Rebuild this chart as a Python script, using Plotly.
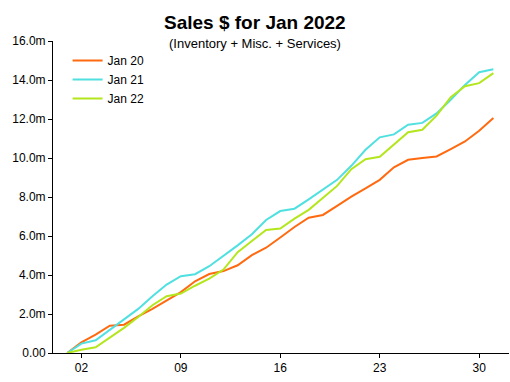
import plotly.graph_objects as go

days = list(range(1, 32))
jan20 = [0, 0.55, 0.94, 1.40, 1.45, 1.88, 2.26, 2.69, 3.12, 3.68, 4.05, 4.20, 4.50, 5.02, 5.40,
         5.92, 6.46, 6.94, 7.08, 7.54, 8.02, 8.44, 8.88, 9.52, 9.91, 10.00, 10.08, 10.46, 10.85, 11.40, 12.05]
jan21 = [0, 0.48, 0.65, 1.20, 1.71, 2.26, 2.91, 3.51, 3.94, 4.04, 4.45, 4.97, 5.52, 6.09, 6.82,
         7.28, 7.40, 7.88, 8.40, 8.88, 9.60, 10.42, 11.06, 11.21, 11.71, 11.80, 12.29, 12.99, 13.75, 14.40, 14.55]
jan22 = [0, 0.17, 0.29, 0.77, 1.29, 1.85, 2.45, 2.91, 3.05, 3.45, 3.81, 4.28, 5.17, 5.74, 6.31,
         6.38, 6.89, 7.34, 7.97, 8.57, 9.43, 9.94, 10.06, 10.68, 11.32, 11.45, 12.17, 13.12, 13.68, 13.84, 14.35]

x_tickvals = [2, 9, 16, 23, 30]
x_ticktext = ["02", "09", "16", "23", "30"]
y_tickvals = [0, 2, 4, 6, 8, 10, 12, 14, 16]
y_ticktext = ["0.00", "2.0m", "4.0m", "6.0m", "8.0m", "10.0m", "12.0m", "14.0m", "16.0m"]

series = [("Jan 20", jan20, "#FF6A10"), ("Jan 21", jan21, "#50E0E0"), ("Jan 22", jan22, "#B4E61E")]

fig = go.Figure()
for name, vals, color in series:
    fig.add_trace(go.Scatter(x=days, y=vals, name=name, mode="lines",
                             line=dict(color=color, width=2)))

font = "Liberation Sans, Arial, sans-serif"
fig.update_layout(
    width=510, height=382,
    margin=dict(l=53, r=1, t=41, b=29, autoexpand=False),
    paper_bgcolor="white", plot_bgcolor="white",
    font=dict(family=font, size=12, color="black"),
    showlegend=True,
    legend=dict(x=0.032, y=0.984, xanchor="left", yanchor="top", bgcolor="rgba(0,0,0,0)",
                font=dict(size=12), tracegroupgap=0, itemwidth=30),
    xaxis=dict(range=[0, 32.1], tickvals=x_tickvals, ticktext=x_ticktext, showgrid=False,
               zeroline=False, showline=True, linecolor="black", linewidth=1, automargin=False,
               ticks="outside", ticklen=4, tickcolor="black", fixedrange=True),
    yaxis=dict(range=[0, 16], tickvals=y_tickvals, ticktext=y_ticktext, showgrid=False,
               zeroline=False, showline=True, linecolor="black", linewidth=1, automargin=False,
               ticks="outside", ticklen=4, tickcolor="black", fixedrange=True),
    annotations=[
        dict(text="<b>Sales $ for Jan 2022</b>", xref="paper", yref="paper", x=0.443, y=1,
             xanchor="center", yanchor="middle", yshift=41 - 22, showarrow=False,
             font=dict(size=19, family=font)),
        dict(text="(Inventory + Misc. + Services)", xref="paper", yref="paper", x=0.443, y=1,
             xanchor="center", yanchor="middle", yshift=41 - 43, showarrow=False,
             font=dict(size=13, family=font)),
    ],
)

fig.write_html("out.html", config={"displayModeBar": False},
               post_script="document.body.style.margin='0';document.body.style.overflow='hidden';")
